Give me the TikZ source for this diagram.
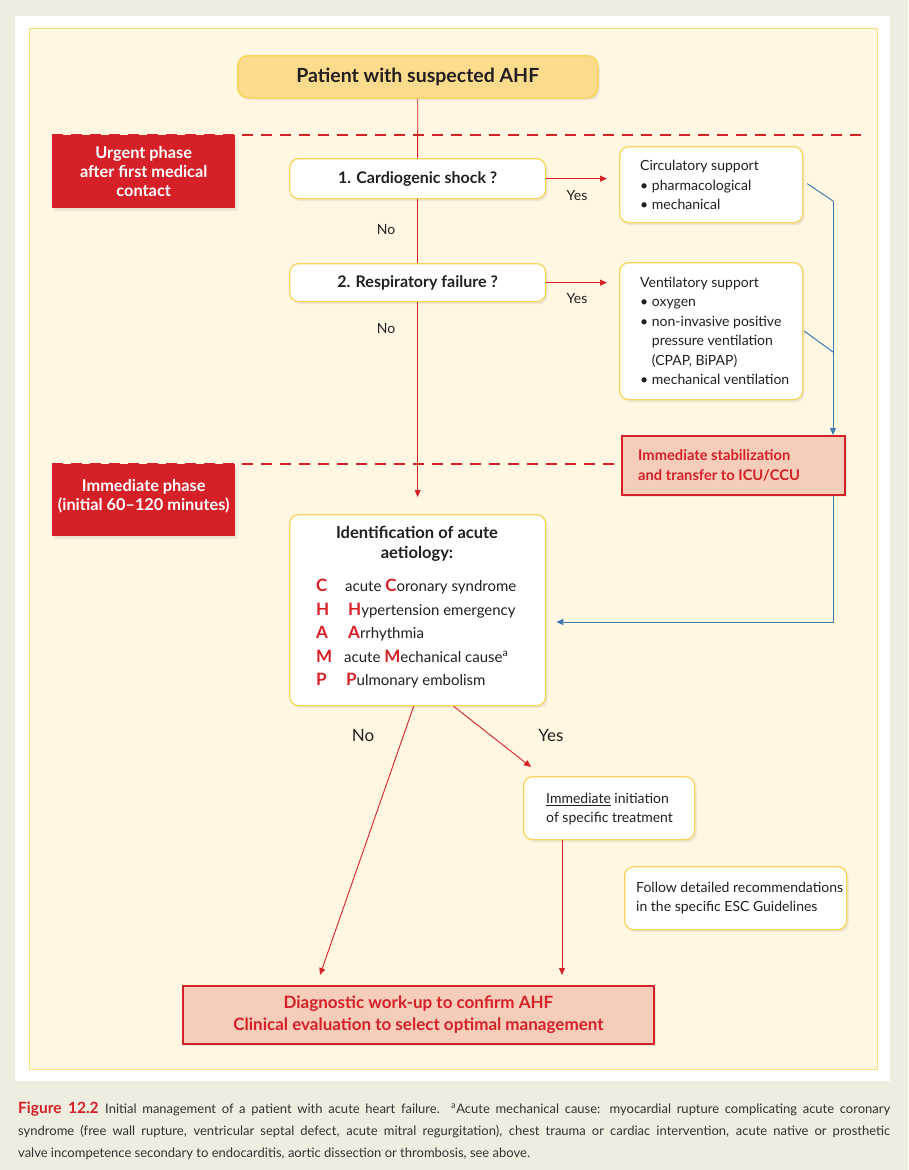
\documentclass[tikz,border=0pt]{standalone}
\usepackage{fontspec}
\setmainfont{Lato}
\usetikzlibrary{arrows.meta,shadows,calc}
\definecolor{bgbeige}{RGB}{238,237,224}
\definecolor{cream}{RGB}{255,247,226}
\definecolor{frameyellow}{RGB}{250,222,130}
\definecolor{boxyellow}{RGB}{248,212,90}
\definecolor{patfill}{RGB}{252,220,140}
\definecolor{phasered}{RGB}{214,32,39}
\definecolor{salmon}{RGB}{246,205,185}
\definecolor{flowblue}{RGB}{60,125,176}
\definecolor{txt}{RGB}{35,31,32}
\definecolor{captxt}{RGB}{50,50,50}
\begin{document}
\begin{tikzpicture}[x=1pt,y=-1pt,
  shadowed/.style={drop shadow={opacity=0.15, shadow xshift=2pt, shadow yshift=-2.5pt}},
  ybox/.style={draw=boxyellow, line width=1.3pt, fill=white, rounded corners=9pt, shadowed, inner sep=0pt, anchor=north west},
  patbox/.style={draw=boxyellow, line width=1.5pt, fill=patfill, rounded corners=10pt, shadowed, inner sep=0pt, anchor=north west, text=txt, font=\fontsize{19.5}{22}\selectfont\bfseries},
  phasebox/.style={fill=phasered, text=white, font=\fontsize{16.3}{19}\selectfont\bfseries, align=center, inner sep=0pt, shadowed, anchor=north west},
  phasetxt/.style={text=white, font=\fontsize{16.3}{19}\selectfont\bfseries, align=center, inner sep=0pt},
  salbox/.style={fill=salmon, draw=phasered, line width=1.8pt, shadowed, inner sep=0pt, anchor=north west, text=phasered, font=\fontsize{17}{22}\selectfont\bfseries},
  qtxt/.style={text=txt, font=\fontsize{16}{19}\selectfont\bfseries},
  bodytxt/.style={text=txt, font=\fontsize{14}{19.5}\selectfont, align=left, inner sep=0pt},
  idtxt/.style={text=txt, font=\fontsize{15}{19.5}\selectfont, align=left, inner sep=0pt, anchor=base west},
  lbl/.style={text=txt, font=\fontsize{14}{17}\selectfont, inner sep=0pt},
  biglbl/.style={text=txt, font=\fontsize{17}{19}\selectfont, inner sep=0pt},
  letr/.style={text=phasered, font=\fontsize{17}{19}\selectfont\bfseries, inner sep=0pt, anchor=base west},
  redarrow/.style={draw=phasered, line width=0.9pt, -{Triangle[length=7pt,width=6pt]}},
  redline/.style={draw=phasered, line width=0.9pt},
  bluearrow/.style={draw=flowblue, line width=1pt, -{Triangle[length=7pt,width=6pt]}},
  blueline/.style={draw=flowblue, line width=1pt},
  dashline/.style={draw=phasered, line width=1.6pt, dash pattern=on 11pt off 8pt}
]
\useasboundingbox (0,0) rectangle (908,1170);
\fill[bgbeige] (0,0) rectangle (908,1170);
\fill[white] (15,16) rectangle (890,1081);
\filldraw[fill=cream, draw=frameyellow, line width=1pt] (29,28) rectangle (877,1069);

% phase boxes
\node[phasebox, minimum width=183pt, minimum height=73pt] (urgent) at (52,135) {Urgent phase\\after first medical\\contact};
\node[phasebox, minimum width=183pt, minimum height=72pt] (immph) at (52,464) {};
\node[phasetxt] (immphtxt) at ([yshift=3.5pt]immph.center) {Immediate phase\\(initial 60--120 minutes)};

% main nodes
\node[patbox, minimum width=360pt, minimum height=42pt] (pat) at (237,55) {Patient with suspected AHF};
\node[ybox, minimum width=256pt, minimum height=40pt, qtxt] (cardio) at (289,158) {1. Cardiogenic shock ?};
\node[ybox, minimum width=256pt, minimum height=38pt, qtxt] (resp) at (289,263) {2. Respiratory failure ?};
\node[ybox, minimum width=183pt, minimum height=76pt] (circ) at (619,146) {};
\node[bodytxt, anchor=west] (circtxt) at (640,185) {Circulatory support\\\textbullet\ pharmacological\\\textbullet\ mechanical};
\node[ybox, minimum width=183pt, minimum height=137pt] (vent) at (619,262) {};
\node[bodytxt, anchor=west] (venttxt) at (640,331) {Ventilatory support\\\textbullet\ oxygen\\\textbullet\ non-invasive positive\\\phantom{\textbullet\ }pressure ventilation\\\phantom{\textbullet\ }(CPAP, BiPAP)\\\textbullet\ mechanical ventilation};
\node[salbox, minimum width=223pt, minimum height=59pt] (stab) at (621,435) {};
\node[anchor=west, align=left, inner sep=0pt, text=phasered, font=\fontsize{14.7}{20}\selectfont\bfseries] (stabtxt) at (638,465) {Immediate stabilization\\and transfer to ICU/CCU};

% dashed phase borders
\draw[dashline] (52,135) -- (862,135);
\draw[dashline] (52,464) -- (stab.west |- 0,464);

\node[ybox, minimum width=256pt, minimum height=191pt] (ident) at (289,514) {};
\node[qtxt, align=center, inner sep=0pt, font=\fontsize{16.5}{20}\selectfont\bfseries] (idtitle) at (417,544) {Identification of acute\\aetiology:};
\node[letr] (lc) at (316,591) {C};
\node[idtxt] (tc) at (345,591) {acute \textcolor{phasered}{\fontsize{17}{19}\selectfont\bfseries C}oronary syndrome};
\node[letr] (lh) at (316,615) {H};
\node[idtxt] (th) at (348,615) {\textcolor{phasered}{\fontsize{17}{19}\selectfont\bfseries H}ypertension emergency};
\node[letr] (la) at (316,638) {A};
\node[idtxt] (ta) at (348,638) {\textcolor{phasered}{\fontsize{17}{19}\selectfont\bfseries A}rrhythmia};
\node[letr] (lm) at (316,662) {M};
\node[idtxt] (tm) at (344,662) {acute \textcolor{phasered}{\fontsize{17}{19}\selectfont\bfseries M}echanical cause\textsuperscript{a}};
\node[letr] (lp) at (316,685) {P};
\node[idtxt] (tp) at (346,685) {\textcolor{phasered}{\fontsize{17}{19}\selectfont\bfseries P}ulmonary embolism};

\node[ybox, minimum width=171pt, minimum height=63pt] (init) at (523,776) {};
\node[bodytxt, anchor=west] (inittxt) at (546,809) {\underline{Immediate} initiation\\of specific treatment};
\node[ybox, minimum width=222pt, minimum height=63pt] (follow) at (624,866) {};
\node[bodytxt, anchor=west] (followtxt) at (636,898) {Follow detailed recommendations\\in the specific ESC Guidelines};
\node[salbox, minimum width=471pt, minimum height=58pt, align=center] (diag) at (182,985) {Diagnostic work-up to confirm AHF\\Clinical evaluation to select optimal management};

% labels
\node[lbl] (no1) at (386,230) {No};
\node[lbl] (no2) at (386,329) {No};
\node[lbl] (yes1) at (577,196) {Yes};
\node[lbl] (yes2) at (577,299) {Yes};
\node[biglbl] (no3) at (363,735) {No};
\node[biglbl] (yes3) at (551,735) {Yes};

% red connectors
\draw[redline] (pat.south) -- (cardio.north);
\draw[redline] (cardio.south) -- (resp.north);
\draw[redarrow, shorten >=17pt] (resp.south) -- (ident.north);
\draw[redarrow, shorten >=12pt] (cardio.east) -- (cardio.east -| circ.west);
\draw[redarrow, shorten >=12pt] (resp.east) -- (resp.east -| vent.west);
\coordinate (noend) at (320,975);
\coordinate (yesend) at (531,767);
\coordinate (vx) at (562,975);
\draw[redarrow] ([xshift=-4pt]ident.south) -- (noend);
\draw[redarrow] ([xshift=36pt]ident.south) -- (yesend);
\draw[redarrow] (vx |- init.south) -- (vx);

% blue connectors
\coordinate (bj1) at (833,201);
\coordinate (bj2) at (833,352);
\coordinate (bj3) at (833,622);
\draw[blueline] ([xshift=4pt,yshift=1pt]circ.east) -- (bj1);
\draw[blueline] ([xshift=1pt]vent.east) -- (bj2);
\draw[bluearrow] (bj1) -- (bj1 |- stab.north);
\draw[bluearrow, shorten >=10pt] (bj3 |- stab.south) -- (bj3) -- (bj3 -| ident.east);

% caption
\node[anchor=base west, inner sep=0pt, text=captxt, font=\fontsize{13}{22}\selectfont] (cap1) at (18,1113) {\hbox to 872pt{\textcolor{phasered}{\fontsize{15.5}{22}\selectfont\bfseries Figure 12.2}\enspace Initial management of a patient with acute heart failure. \textsuperscript{a}Acute mechanical cause: myocardial rupture complicating acute coronary}};
\node[anchor=base west, inner sep=0pt, text=captxt, font=\fontsize{13}{22}\selectfont] (cap2) at (18,1135) {\hbox to 872pt{syndrome (free wall rupture, ventricular septal defect, acute mitral regurgitation), chest trauma or cardiac intervention, acute native or prosthetic}};
\node[anchor=base west, inner sep=0pt, text=captxt, font=\fontsize{13}{22}\selectfont] (cap3) at (18,1157) {valve incompetence secondary to endocarditis, aortic dissection or thrombosis, see above.};
\end{tikzpicture}
\end{document}
